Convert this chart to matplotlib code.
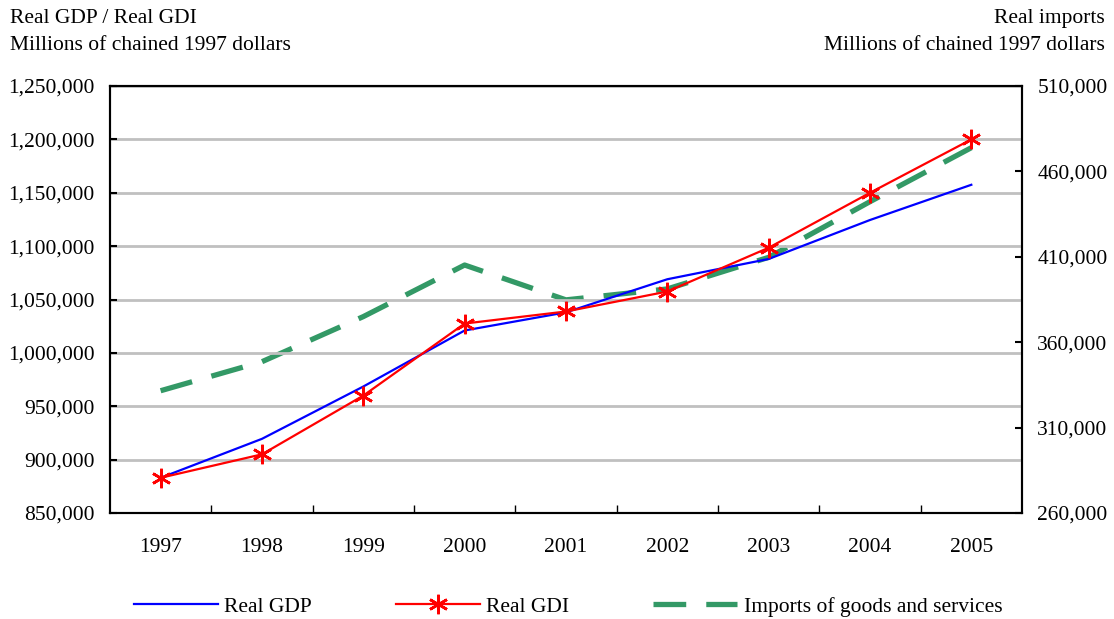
import numpy as np
import matplotlib.pyplot as plt
from matplotlib.ticker import FuncFormatter, FixedLocator

years = ['1997', '1998', '1999', '2000', '2001', '2002', '2003', '2004', '2005']
real_gdp = [883000, 919500, 968500, 1021000, 1038000, 1069000, 1088000, 1124500, 1157500]
real_gdi = [883000, 905000, 960000, 1027500, 1038800, 1057500, 1098500, 1150000, 1200000]
imports = [331600, 348600, 375000, 405200, 384800, 391200, 409700, 442300, 473900]

plt.rcParams['font.family'] = ['Liberation Serif', 'DejaVu Serif']
plt.rcParams['font.size'] = 15.5

fig = plt.figure(figsize=(11.14, 6.19), dpi=100)
ax = fig.add_axes([0.0987, 0.1712, 0.8187, 0.6898])
ax2 = ax.twinx()

x = np.arange(len(years))

ax.plot(x, real_gdp, color='blue', lw=1.6, label='Real GDP', zorder=3)
ax.plot(x, real_gdi, color='red', lw=1.6, marker=(6, 2, 0), markersize=14,
        mew=1.9, label='Real GDI', zorder=4)
ln3, = ax2.plot(x, imports, color='#339966', lw=3.8, dashes=(6.2, 3.8),
                label='Imports of goods and services', zorder=2)

ax.set_xlim(-0.5, 8.5)
ax.set_ylim(850000, 1250000)
ax2.set_ylim(260000, 510000)

# gridlines
ax.set_yticks(np.arange(850000, 1250001, 50000))
ax.yaxis.grid(True, color='#c0c0c0', lw=2)
ax.set_axisbelow(True)
ax2.set_yticks(np.arange(260000, 510001, 50000))

fmt = FuncFormatter(lambda v, p: f'{int(v):,}')
ax.yaxis.set_major_formatter(fmt)
ax2.yaxis.set_major_formatter(fmt)

# category ticks between years, labels centred
ax.xaxis.set_major_locator(FixedLocator(np.arange(0.5, 8, 1)))
ax.xaxis.set_minor_locator(FixedLocator(x))
ax.set_xticklabels([], minor=False)
ax.set_xticklabels(years, minor=True)
ax.tick_params(axis='x', which='major', direction='in', length=6, width=1)
ax.tick_params(axis='x', which='minor', length=0, pad=18)
ax.tick_params(axis='y', direction='in', length=5, width=1.5, pad=11)
ax2.tick_params(axis='y', direction='in', length=5, width=1.5, pad=11)

for a in (ax, ax2):
    for s in a.spines.values():
        s.set_linewidth(1.5)

ax.set_zorder(ax2.get_zorder() + 1)
ax.patch.set_visible(False)

fig.text(0.009, 0.97, 'Real GDP / Real GDI', ha='left', va='center')
fig.text(0.009, 0.927, 'Millions of chained 1997 dollars', ha='left', va='center')
fig.text(0.992, 0.97, 'Real imports', ha='right', va='center')
fig.text(0.992, 0.927, 'Millions of chained 1997 dollars', ha='right', va='center')

h1, l1 = ax.get_legend_handles_labels()
fig.legend(h1 + [ln3], l1 + [ln3.get_label()], loc='center', bbox_to_anchor=(0.51, 0.02),
           ncol=3, frameon=False, handlelength=3.9, columnspacing=3.9,
           handletextpad=0.3, borderaxespad=0)

fig.savefig('out.png', dpi=100)
